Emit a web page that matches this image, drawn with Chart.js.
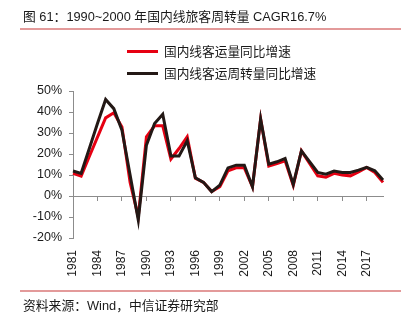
<!DOCTYPE html>
<html>
<head>
<meta charset="utf-8">
<script src="https://cdn.jsdelivr.net/npm/chart.js@4/dist/chart.umd.min.js"></script>
<style>
  html, body { margin: 0; padding: 0; background: #fff; }
  #wrap { position: relative; width: 414px; height: 325px; overflow: hidden;
          font-family: "Liberation Sans", "Noto Sans CJK SC", sans-serif; color: #1a1a1a; }
  #chart { position: absolute; left: 0; top: 0; width: 414px; height: 325px; }
  .title { position: absolute; left: 23px; top: 9px; font-size: 12.8px; line-height: 16px; white-space: nowrap; }
  .rule { position: absolute; left: 20px; width: 381px; height: 2px; background: #e39a9a; }
  .leg { position: absolute; left: 127px; font-size: 12.7px; line-height: 16px; white-space: nowrap; }
  .leg i { display: inline-block; width: 31px; height: 3px; vertical-align: middle; margin-right: 6px; position: relative; top: -1px; }
  .src { position: absolute; left: 23px; top: 298px; font-size: 12.8px; line-height: 16px; white-space: nowrap; }
</style>
</head>
<body>
<div id="wrap">
  <canvas id="chart" width="414" height="325"></canvas>
  <div class="title">图 61：1990~2000 年国内线旅客周转量 CAGR16.7%</div>
  <div class="rule" style="top:28px"></div>
  <div class="leg" style="top:44px"><i style="background:#e60012"></i>国内线客运量同比增速</div>
  <div class="leg" style="top:66px"><i style="background:#231815"></i>国内线客运周转量同比增速</div>
  <div class="rule" style="top:290px"></div>
  <div class="src">资料来源：Wind，中信证券研究部</div>
</div>
<script>
// Years 1981–2019
const years = [];
for (let y = 1981; y <= 2019; y++) years.push(String(y));

// 国内线客运量同比增速 (%)
const passengerGrowth = [
  10.8, 9.5, 18.8, 28.0, 37.2, 39.6, 32.9, 6.5, -10.0, 28.2,
  33.4, 33.4, 17.6, 22.6, 28.2, 8.5, 6.5, 2.1, 4.4, 12.0,
  13.4, 13.4, 4.4, 36.6, 14.2, 15.4, 16.8, 5.0, 21.5, 15.5,
  9.6, 8.9, 10.8, 10.0, 9.6, 11.5, 13.6, 11.2, 6.5
];

// 国内线客运周转量同比增速 (%)
const turnoverGrowth = [
  11.9, 10.8, 22.6, 34.5, 46.0, 41.6, 31.3, 10.0, -11.4, 24.2,
  34.5, 38.9, 19.1, 19.1, 26.3, 8.7, 6.5, 2.1, 5.2, 13.4,
  14.7, 14.7, 4.4, 36.6, 15.2, 16.3, 17.9, 5.5, 21.5, 16.3,
  11.2, 10.4, 11.9, 11.2, 11.2, 12.3, 13.6, 12.0, 7.6
];

const yTicks = { min: -20, max: 50, step: 10 };
const axisGrey = '#8c8c8c';
const textFont = { family: '"Liberation Sans", "Noto Sans CJK SC", sans-serif' };

new Chart(document.getElementById('chart'), {
  type: 'line',
  data: {
    labels: years,
    datasets: [
      {
        label: '国内线客运量同比增速',
        data: passengerGrowth,
        borderColor: '#e60012',
        borderWidth: 3,
        pointRadius: 0,
        tension: 0,
        order: 2
      },
      {
        label: '国内线客运周转量同比增速',
        data: turnoverGrowth,
        borderColor: '#231815',
        borderWidth: 3,
        pointRadius: 0,
        tension: 0,
        order: 1
      }
    ]
  },
  options: {
    responsive: false,
    animation: false,
    layout: { padding: { left: 0, top: 91, right: 31, bottom: 47 } },
    plugins: { legend: { display: false }, tooltip: { enabled: false } },
    scales: {
      x: {
        type: 'category',
        offset: false,
        grid: { display: false, drawTicks: false },
        border: { display: false },
        ticks: {
          autoSkip: false,
          minRotation: 90,
          maxRotation: 90,
          padding: 12,
          color: '#1a1a1a',
          font: { ...textFont, size: 12 },
          callback: function (value, index) {
            return index % 3 === 0 ? this.getLabelForValue(value) : '';
          }
        },
        afterFit: s => { s.height = 40; }
      },
      xZero: {
        type: 'category',
        axis: 'x',
        position: { y: 0 },
        offset: false,
        ticks: { display: false },
        grid: {
          drawOnChartArea: false,
          drawTicks: true,
          tickLength: 4,
          tickColor: ctx => (ctx.index % 3 === 0 ? axisGrey : 'rgba(0,0,0,0)')
        },
        border: { display: true, color: axisGrey, width: 1 }
      },
      y: {
        min: yTicks.min,
        max: yTicks.max,
        ticks: {
          stepSize: yTicks.step,
          padding: 7,
          color: '#1a1a1a',
          font: { ...textFont, size: 12.5 },
          callback: v => v + '%'
        },
        grid: { drawOnChartArea: false, drawTicks: true, tickLength: 4, tickColor: axisGrey },
        border: { display: true, color: axisGrey, width: 1 },
        afterFit: s => { s.width = 73; }
      }
    }
  }
});
</script>
</body>
</html>
